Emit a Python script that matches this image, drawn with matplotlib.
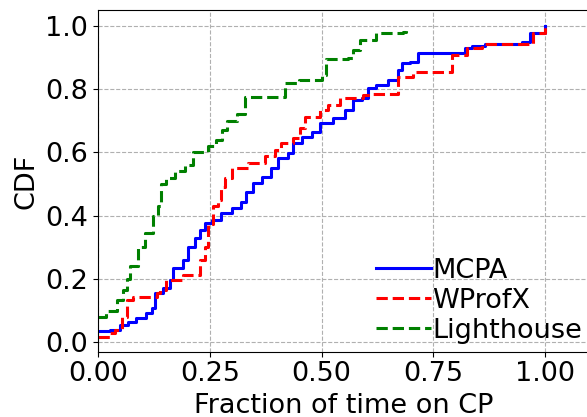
import numpy as np
import matplotlib
matplotlib.use('Agg')
import matplotlib.pyplot as plt

# step points (fraction of time on CP, CDF)
mcpa_x = [0, 0.027, 0.049, 0.068, 0.086, 0.108, 0.12, 0.128, 0.146, 0.161, 0.168, 0.19,
          0.202, 0.217, 0.228, 0.239, 0.254, 0.276, 0.299, 0.321, 0.332, 0.347, 0.366,
          0.388, 0.403, 0.426, 0.437, 0.456, 0.478, 0.497, 0.526, 0.553, 0.571, 0.59,
          0.605, 0.623, 0.649, 0.672, 0.679, 0.698, 0.716, 0.81, 0.821, 0.836, 0.866,
          0.948, 0.966, 1.0]
mcpa_y = [0.036, 0.04, 0.055, 0.065, 0.076, 0.092, 0.107, 0.155, 0.17, 0.197, 0.234, 0.26,
          0.302, 0.328, 0.355, 0.376, 0.386, 0.407, 0.423, 0.444, 0.476, 0.502, 0.523,
          0.55, 0.581, 0.597, 0.629, 0.65, 0.665, 0.692, 0.708, 0.734, 0.765, 0.771,
          0.802, 0.813, 0.828, 0.86, 0.881, 0.886, 0.913, 0.913, 0.929, 0.936, 0.944,
          0.95, 0.976, 1.0]

wprofx_x = [0, 0.027, 0.038, 0.053, 0.064, 0.079, 0.131, 0.139, 0.153, 0.19, 0.228, 0.239,
            0.247, 0.258, 0.269, 0.276, 0.284, 0.299, 0.336, 0.373, 0.396, 0.41, 0.437,
            0.452, 0.463, 0.497, 0.515, 0.541, 0.593, 0.61, 0.672, 0.705, 0.791, 0.825,
            0.86, 0.974, 1.0]
wprofx_y = [0.016, 0.03, 0.039, 0.081, 0.134, 0.144, 0.155, 0.165, 0.197, 0.212, 0.26, 0.30,
            0.375, 0.43, 0.45, 0.49, 0.52, 0.55, 0.565, 0.59, 0.607, 0.63, 0.644,
            0.676, 0.713, 0.734, 0.75, 0.771, 0.78, 0.786, 0.839, 0.855, 0.907, 0.929,
            0.944, 0.976, 1.0]

lh_x = [0, 0.019, 0.042, 0.056, 0.064, 0.072, 0.09, 0.105, 0.123, 0.134, 0.142, 0.153,
        0.172, 0.195, 0.213, 0.246, 0.265, 0.277, 0.288, 0.31, 0.329, 0.418, 0.45, 0.50,
        0.51, 0.56, 0.571, 0.586, 0.623, 0.683, 0.689]
lh_y = [0.081, 0.10, 0.134, 0.165, 0.20, 0.24, 0.30, 0.345, 0.40, 0.43, 0.50, 0.52,
        0.54, 0.56, 0.60, 0.62, 0.64, 0.67, 0.70, 0.72, 0.776, 0.818, 0.83, 0.845,
        0.895, 0.897, 0.923, 0.955, 0.976, 0.98, 1.0]

xticks = [0, 0.25, 0.5, 0.75, 1.0]
xticklabels = ['0.00', '0.25', '0.50', '0.75', '1.00']
yticks = [0, 0.2, 0.4, 0.6, 0.8, 1.0]

plt.rcParams['font.family'] = ['DejaVu Sans']
fig = plt.figure(figsize=(5.87, 4.17), dpi=100)
ax = fig.add_axes([98/587, 65.3/417, 491.7/587, 341.7/417])

ax.step(mcpa_x, mcpa_y, where='post', color='blue', lw=2.2, label='MCPA')
ax.step(wprofx_x, wprofx_y, where='post', color='red', lw=2.2, ls='--', label='WProfX')
ax.step(lh_x, lh_y, where='post', color='green', lw=2.2, ls='--', label='Lighthouse')

ax.set_xlim(0, 1.1)
ax.set_ylim(-0.03, 1.05)
ax.set_xticks(xticks)
ax.set_xticklabels(xticklabels)
ax.set_yticks(yticks)
ax.tick_params(labelsize=19.5)
ax.grid(True, ls='--', color='#b0b0b0', lw=0.8)
ax.set_xlabel('Fraction of time on CP', fontsize=19.5)
ax.xaxis.set_label_coords(0.5, -0.178)
ax.xaxis.label.set_va('baseline')
ax.set_ylabel('CDF', fontsize=19.5)
ax.legend(loc='lower right', fontsize=19.5, frameon=False, handlelength=2,
          handletextpad=0.05, labelspacing=0.15, borderaxespad=0.0,
          bbox_to_anchor=(1.006, -0.009))

fig.savefig('out.png', dpi=100)
